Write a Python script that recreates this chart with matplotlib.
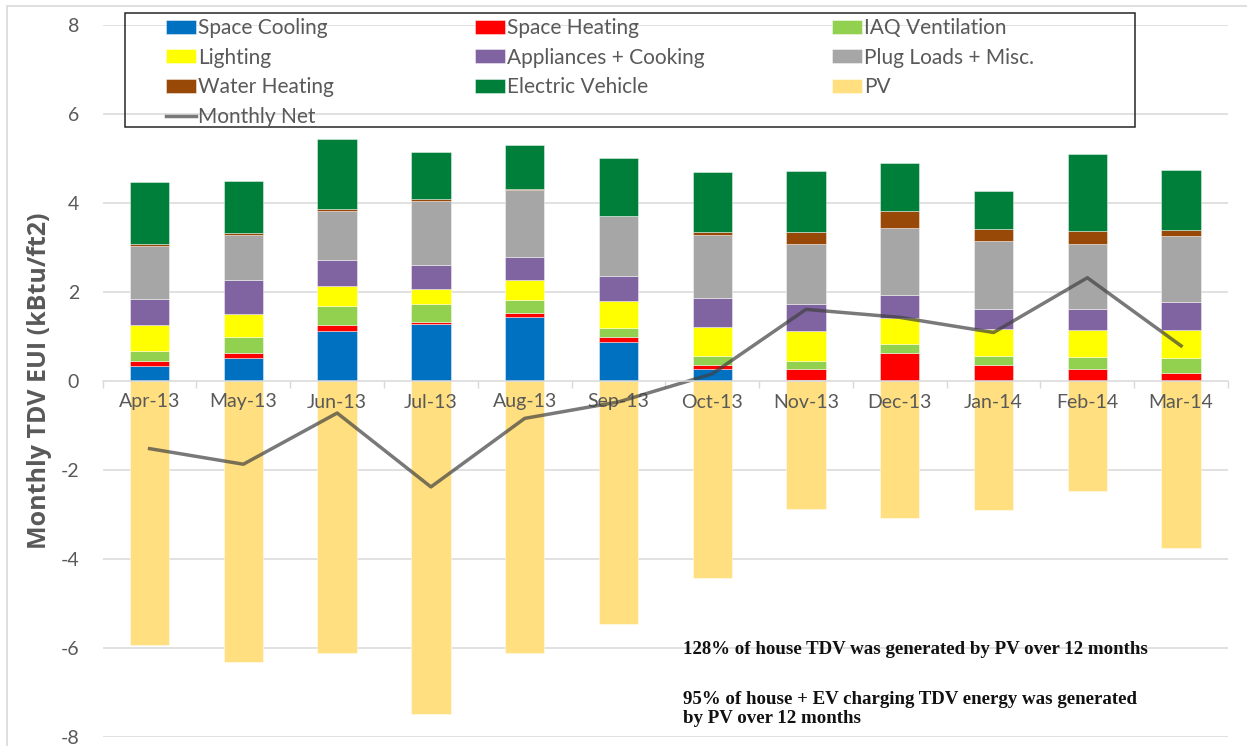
import numpy as np
import matplotlib.pyplot as plt
from matplotlib.patches import Rectangle

months = ['Apr-13', 'May-13', 'Jun-13', 'Jul-13', 'Aug-13', 'Sep-13',
          'Oct-13', 'Nov-13', 'Dec-13', 'Jan-14', 'Feb-14', 'Mar-14']

space_cooling = [0.33, 0.51, 1.12, 1.28, 1.43, 0.88, 0.26, 0.02, 0.0, 0.0, 0.0, 0.0]
space_heating = [0.11, 0.11, 0.13, 0.04, 0.10, 0.10, 0.10, 0.24, 0.62, 0.36, 0.28, 0.18]
iaq_ventilation = [0.23, 0.36, 0.44, 0.41, 0.29, 0.21, 0.21, 0.20, 0.21, 0.21, 0.26, 0.33]
lighting = [0.58, 0.53, 0.45, 0.33, 0.45, 0.61, 0.65, 0.66, 0.58, 0.59, 0.61, 0.64]
appliances = [0.59, 0.76, 0.57, 0.55, 0.52, 0.56, 0.65, 0.60, 0.52, 0.46, 0.47, 0.63]
plug_loads = [1.19, 1.02, 1.12, 1.44, 1.51, 1.34, 1.41, 1.36, 1.51, 1.53, 1.46, 1.47]
water_heating = [0.05, 0.03, 0.03, 0.03, 0.01, 0.01, 0.06, 0.26, 0.39, 0.26, 0.29, 0.15]
electric_vehicle = [1.39, 1.17, 1.57, 1.07, 1.00, 1.30, 1.36, 1.38, 1.06, 0.87, 1.72, 1.35]
pv = [-5.93, -6.31, -6.11, -7.48, -6.11, -5.46, -4.43, -2.88, -3.08, -2.90, -2.47, -3.75]
monthly_net = [-1.52, -1.87, -0.72, -2.38, -0.84, -0.47, 0.16, 1.61, 1.43, 1.09, 2.32, 0.79]

series = [
    ('Space Cooling', space_cooling, '#0070C0'),
    ('Space Heating', space_heating, '#FF0000'),
    ('IAQ Ventilation', iaq_ventilation, '#92D050'),
    ('Lighting', lighting, '#FFFF00'),
    ('Appliances + Cooking', appliances, '#8064A2'),
    ('Plug Loads + Misc.', plug_loads, '#A6A6A6'),
    ('Water Heating', water_heating, '#984807'),
    ('Electric Vehicle', electric_vehicle, '#007F3A'),
]
yticks = [-8, -6, -4, -2, 0, 2, 4, 6, 8]

grey = '#595959'
grid = '#D9D9D9'
plt.rcParams['font.family'] = ['Lato', 'DejaVu Sans']

fig = plt.figure(figsize=(12.47, 7.46), dpi=100)
ax = fig.add_axes([102.7 / 1247, 1 - 737 / 746, (1228 - 102.7) / 1247, (737 - 25) / 746])

x = np.arange(len(months))
w = 0.42
edge = (1, 1, 1, 0.5)

handles = {}
bottom = np.zeros(len(months))
for name, vals, col in series:
    handles[name] = ax.bar(x, vals, w, bottom=bottom, color=col, edgecolor=edge,
                           linewidth=0.6, zorder=1, label=name)
    bottom += np.array(vals)
handles['PV'] = ax.bar(x, pv, w, color='#FFDF80', edgecolor=edge, linewidth=0.6,
                       zorder=1, label='PV')
handles['Monthly Net'], = ax.plot(x, monthly_net, color='#404040', alpha=0.7, lw=2.5,
                                  zorder=2, label='Monthly Net')

# gridlines behind the bars
for t in yticks:
    if t != 0:
        ax.axhline(t, color=grid, lw=1.1, zorder=0.5)

ax.set_xlim(-0.5, len(months) - 0.5)
ax.set_ylim(-8, 8)
ax.set_yticks(yticks)
ax.set_yticklabels([str(t) for t in yticks])
ax.tick_params(axis='y', length=0, pad=17, labelsize=14, labelcolor=grey)

ax.set_xticks(np.arange(len(months) + 1) - 0.5)
ax.set_xticklabels([])
ax.set_xticks(x, minor=True)
ax.set_xticklabels(months, minor=True)
ax.tick_params(axis='x', which='major', direction='out', length=5, width=1, color=grid)
ax.tick_params(axis='x', which='minor', length=0, pad=9, labelsize=14, labelcolor=grey)

for s in ['top', 'right', 'left']:
    ax.spines[s].set_visible(False)
ax.spines['bottom'].set_position(('data', 0))
ax.spines['bottom'].set_color(grid)
ax.spines['bottom'].set_linewidth(1.1)

ax.set_ylabel('Monthly TDV EUI (kBtu/ft2)', fontsize=18, fontweight='bold', color=grey,
              family=['Open Sans', 'DejaVu Sans'])
ax.yaxis.set_label_coords(-0.045, 0.5)

# legend: three columns, frame drawn separately
columns = [
    ['Space Cooling', 'Lighting', 'Water Heating', 'Monthly Net'],
    ['Space Heating', 'Appliances + Cooking', 'Electric Vehicle'],
    ['IAQ Ventilation', 'Plug Loads + Misc.', 'PV'],
]
col_x = [166, 475, 832]
for names, cx in zip(columns, col_x):
    leg = fig.legend([handles[n] for n in names], names, loc='upper left',
                     bbox_to_anchor=(cx / 1247, 1 - 18 / 746), frameon=False,
                     fontsize=15, handlelength=1.45, handleheight=0.67,
                     handletextpad=0.1, labelspacing=0.46, borderaxespad=0,
                     borderpad=0)
    for t in leg.get_texts():
        t.set_color(grey)
fig.patches.append(Rectangle((125 / 1247, 1 - 127 / 746), (1135 - 125) / 1247, 114 / 746,
                             transform=fig.transFigure, fill=False, edgecolor='#262626',
                             lw=1.1, zorder=5))

# outer chart border
fig.patches.append(Rectangle((7 / 1247, -0.01), 1.02, 1.01 - 6 / 746,
                             transform=fig.transFigure, fill=False, edgecolor=grid, lw=1.2))

note = dict(fontsize=13.6, fontweight='bold', family='Liberation Serif', color='#111111',
            transform=fig.transFigure, va='center', ha='left')
fig.text(683 / 1247, 1 - 650 / 746, '128% of house TDV was generated by PV over 12 months', **note)
fig.text(683 / 1247, 1 - 709 / 746,
         '95% of house + EV charging TDV energy was generated\nby PV over 12 months',
         linespacing=1.1, **note)

fig.savefig('out.png', dpi=100)
